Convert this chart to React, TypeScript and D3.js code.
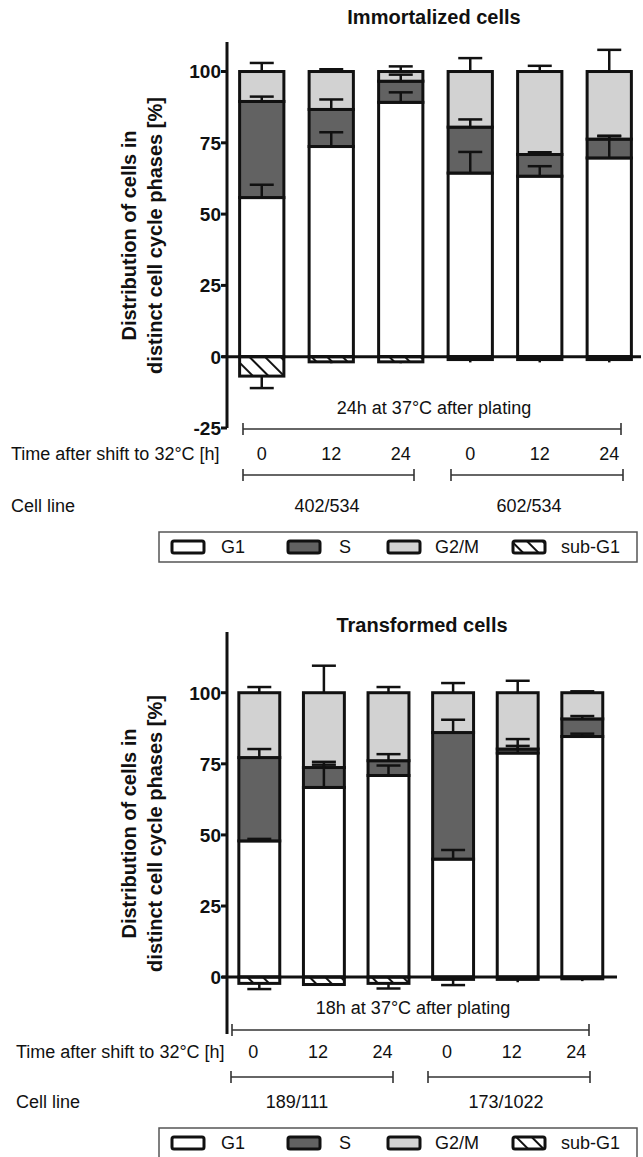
import React from "react";
import * as d3 from "d3";

// shared labels
const timeLabels = ["0", "12", "24", "0", "12", "24"];
const phaseNames = ["G1", "S", "G2/M", "sub-G1"];
const yTickValues = [-25, 0, 25, 50, 75, 100];

// Immortalized cells (mean % and error)
const immCellLines = ["402/534", "602/534"];
const immG1 = [55.8, 73.7, 89.2, 64.4, 63.3, 69.7];
const immS = [33.7, 13.0, 7.4, 16.1, 7.6, 6.6];
const immG2M = [10.5, 13.3, 3.4, 19.5, 29.1, 23.7];
const immSubG1 = [-6.8, -1.8, -1.8, -1.0, -1.0, -1.0];
const immG1Err = [4.5, 5.0, 3.5, 7.4, 3.5, 7.8];
const immSErr = [1.7, 3.5, 2.3, 2.7, 0.8, 1.0];
const immG2MErr = [3.0, 0.8, 1.8, 4.7, 2.0, 7.6];
const immSubG1Err = [4.2, 0.5, 0.5, 1.0, 1.0, 1.0];

// Transformed cells
const trCellLines = ["189/111", "173/1022"];
const trG1 = [47.9, 66.7, 70.9, 41.5, 78.8, 84.6];
const trS = [29.3, 7.0, 5.2, 44.5, 1.4, 6.2];
const trG2M = [22.8, 26.3, 23.9, 14.0, 19.8, 9.2];
const trSubG1 = [-2.2, -2.6, -2.2, -0.8, -0.8, -0.6];
const trG1Err = [0.7, 8.0, 3.5, 3.2, 2.5, 1.0];
const trSErr = [3.0, 2.0, 2.3, 4.5, 3.5, 1.0];
const trG2MErr = [2.0, 9.5, 2.0, 3.4, 4.2, 0.5];
const trSubG1Err = [2.0, 0.5, 1.8, 2.0, 1.0, 0.8];

const FONT = "'Liberation Sans', Arial, sans-serif";
const INK = "#111";
const DARK = "#626262";
const LIGHT = "#d2d2d2";
const phaseFills = ["#fff", DARK, LIGHT, "url(#hatch)"];

function Bracket({ x1, x2, y }) {
  return (
    <g stroke="#333" strokeWidth={1.6}>
      <line x1={x1} x2={x2} y1={y} y2={y} />
      <line x1={x1} x2={x1} y1={y - 6} y2={y + 6} />
      <line x1={x2} x2={x2} y1={y - 6} y2={y + 6} />
    </g>
  );
}

function Panel({ title, g1, s, g2m, sub, g1Err, sErr, g2mErr, subErr, cellLines, lay }) {
  const x = d3
    .scaleBand()
    .domain(d3.range(6).map(String))
    .range(lay.xRange)
    .paddingInner(0.32)
    .paddingOuter(0.16);
  const y = d3.scaleLinear().domain(lay.yDomain).range(lay.yRange);
  const ticks = yTickValues.filter((t) => t >= lay.yDomain[0]);
  const axisX = lay.xRange[0];
  const bw = x.bandwidth();

  const bars = g1.map((v, i) => {
    const xi = x(String(i));
    const stack = [
      { lo: 0, hi: v, err: g1Err[i], fill: phaseFills[0] },
      { lo: v, hi: v + s[i], err: sErr[i], fill: phaseFills[1] },
      { lo: v + s[i], hi: v + s[i] + g2m[i], err: g2mErr[i], fill: phaseFills[2] },
    ];
    return { xi, cx: xi + bw / 2, stack, sub: sub[i], subErr: subErr[i] };
  });

  const yMid = (lay.yRange[0] + lay.yRange[1]) / 2;

  return (
    <g fontFamily={FONT} fill={INK}>
      <text x={lay.titleX} y={lay.titleY} textAnchor="middle" fontWeight="bold" fontSize={20}>
        {title}
      </text>

      {/* y label */}
      <g transform={`translate(${lay.yLabelX[0]},${yMid}) rotate(-90)`}>
        <text textAnchor="middle" fontWeight="bold" fontSize={20}>
          Distribution of cells in
        </text>
      </g>
      <g transform={`translate(${lay.yLabelX[1]},${yMid}) rotate(-90)`}>
        <text textAnchor="middle" fontWeight="bold" fontSize={20}>
          distinct cell cycle phases [%]
        </text>
      </g>

      {/* bars */}
      {bars.map((b, i) => (
        <g key={i}>
          {b.stack.map((seg, j) => (
            <rect
              key={j}
              x={b.xi + 1.5}
              width={bw - 3}
              y={y(seg.hi)}
              height={y(seg.lo) - y(seg.hi)}
              fill={seg.fill}
              stroke={INK}
              strokeWidth={3}
            />
          ))}
          <rect
            x={b.xi + 1.5}
            width={bw - 3}
            y={y(0)}
            height={y(b.sub) - y(0)}
            fill="url(#hatch)"
            stroke={INK}
            strokeWidth={3}
          />
        </g>
      ))}

      {/* error bars */}
      <g stroke={INK} strokeWidth={2.5}>
        {bars.map((b, i) => (
          <g key={i}>
            {b.stack.map((seg, j) => (
              <g key={j}>
                <line x1={b.cx} x2={b.cx} y1={y(seg.hi)} y2={y(seg.hi + seg.err)} />
                <line x1={b.cx - 12} x2={b.cx + 12} y1={y(seg.hi + seg.err)} y2={y(seg.hi + seg.err)} />
              </g>
            ))}
            <line x1={b.cx} x2={b.cx} y1={y(b.sub)} y2={y(b.sub - b.subErr)} />
            {b.subErr > 1.5 && (
              <line x1={b.cx - 12} x2={b.cx + 12} y1={y(b.sub - b.subErr)} y2={y(b.sub - b.subErr)} />
            )}
          </g>
        ))}
      </g>

      {/* axes */}
      <g stroke={INK} strokeWidth={3}>
        <line x1={axisX} x2={axisX} y1={lay.yRange[0]} y2={lay.yRange[1] - 1} />
        <line x1={axisX - 5} x2={lay.axisRight} y1={y(0)} y2={y(0)} />
        {ticks.map((t) => (
          <line key={t} x1={axisX - 6} x2={axisX} y1={y(t)} y2={y(t)} />
        ))}
      </g>
      {ticks.map((t) => (
        <text key={t} x={axisX - 6} y={y(t)} dy="0.36em" textAnchor="end" fontWeight="bold" fontSize={19}>
          {t}
        </text>
      ))}

      {/* annotation rows */}
      <text x={lay.platingX} y={lay.platingY} textAnchor="middle" fontSize={18}>
        {lay.platingText}
      </text>
      <Bracket x1={lay.bracket1[0]} x2={lay.bracket1[1]} y={lay.bracket1Y} />

      <text x={lay.rowLabelX} y={lay.timeY} fontSize={18}>
        Time after shift to 32°C [h]
      </text>
      {timeLabels.map((t, i) => (
        <text key={i} x={bars[i].cx + lay.timeDx} y={lay.timeY} textAnchor="middle" fontSize={18}>
          {t}
        </text>
      ))}

      {lay.groups.map((gr, k) => (
        <Bracket key={k} x1={gr[0]} x2={gr[1]} y={lay.bracket2Y} />
      ))}

      <text x={lay.rowLabelX} y={lay.cellY} fontSize={18}>
        Cell line
      </text>
      {cellLines.map((c, k) => (
        <text key={k} x={lay.cellX[k]} y={lay.cellY} textAnchor="middle" fontSize={18}>
          {c}
        </text>
      ))}

      {/* legend */}
      <rect x={159} y={lay.legendY} width={478} height={30} fill="#fff" stroke="#555" strokeWidth={1.5} />
      {phaseNames.map((p, k) => (
        <g key={p}>
          <rect
            x={[172, 288, 388, 513][k]}
            y={lay.legendY + 9}
            width={32}
            height={12}
            rx={2}
            fill={phaseFills[k]}
            stroke={INK}
            strokeWidth={3}
          />
          <text x={[221, 339, 435, 561][k]} y={lay.legendY + 15} dy="0.36em" fontSize={18}>
            {p}
          </text>
        </g>
      ))}
    </g>
  );
}

const topLayout = {
  titleX: 434,
  titleY: 24,
  xRange: [227, 644],
  axisRight: 641,
  yDomain: [-25, 110],
  yRange: [428, 43],
  yLabelX: [136, 162],
  platingText: "24h at 37°C after plating",
  platingX: 434,
  platingY: 414,
  bracket1: [243, 621],
  bracket1Y: 429,
  rowLabelX: 11,
  timeY: 460,
  timeDx: 0,
  groups: [
    [243, 414],
    [451, 623],
  ],
  bracket2Y: 475,
  cellY: 512,
  cellX: [327, 529],
  legendY: 532,
};

const bottomLayout = {
  titleX: 422,
  titleY: 632,
  xRange: [227, 614.6],
  axisRight: 617,
  yDomain: [-20, 121],
  yRange: [1034, 633],
  yLabelX: [136, 162],
  platingText: "18h at 37°C after plating",
  platingX: 413,
  platingY: 1014,
  bracket1: [232, 589],
  bracket1Y: 1030,
  rowLabelX: 16,
  timeY: 1058,
  timeDx: -6,
  groups: [
    [231, 393],
    [428, 590],
  ],
  bracket2Y: 1077,
  cellY: 1108,
  cellX: [297, 506],
  legendY: 1128,
};

export default function App() {
  return (
    <svg
      width={643}
      height={1157}
      style={{ position: "absolute", left: 0, top: 0, background: "#fff" }}
    >
      <defs>
        <pattern id="hatch" width={11} height={11} patternUnits="userSpaceOnUse" patternTransform="rotate(-45)">
          <rect width={11} height={11} fill="#fff" />
          <line x1={0} y1={0} x2={0} y2={11} stroke={INK} strokeWidth={4} />
        </pattern>
      </defs>
      <rect width={643} height={1157} fill="#fff" />
      <Panel
        title="Immortalized cells"
        g1={immG1}
        s={immS}
        g2m={immG2M}
        sub={immSubG1}
        g1Err={immG1Err}
        sErr={immSErr}
        g2mErr={immG2MErr}
        subErr={immSubG1Err}
        cellLines={immCellLines}
        lay={topLayout}
      />
      <Panel
        title="Transformed cells"
        g1={trG1}
        s={trS}
        g2m={trG2M}
        sub={trSubG1}
        g1Err={trG1Err}
        sErr={trSErr}
        g2mErr={trG2MErr}
        subErr={trSubG1Err}
        cellLines={trCellLines}
        lay={bottomLayout}
      />
    </svg>
  );
}
